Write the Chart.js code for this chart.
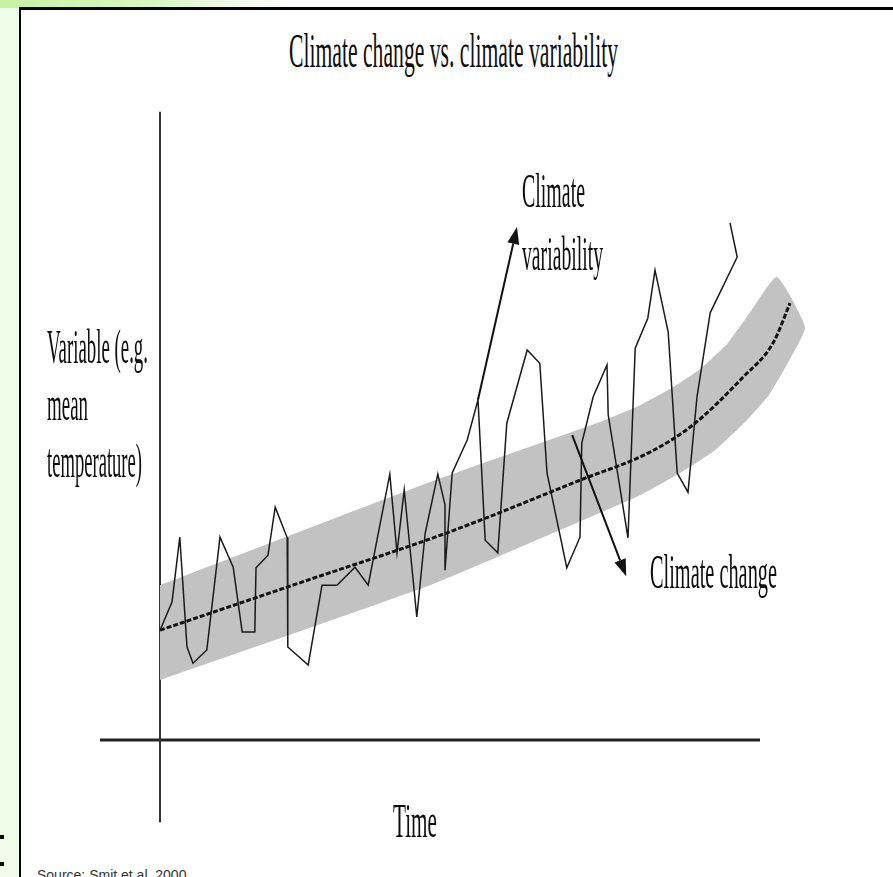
<!DOCTYPE html>
<html lang="en">
<head>
  <meta charset="UTF-8">
  <title>Climate change vs. climate variability</title>
  <script src="https://cdn.jsdelivr.net/npm/chart.js"></script>
  <style>
    html, body {
      margin: 0;
      padding: 0;
    }

    body {
      width: 893px;
      height: 877px;
      overflow: hidden;
      position: relative;
      background: #effce8;
      font-family: "Liberation Serif", "Times New Roman", serif;
    }

    .topstrip {
      position: absolute;
      left: 0;
      top: 0;
      width: 893px;
      height: 8px;
      background: linear-gradient(to right, #c6f2a4 0, #d8f7c2 150px, #ffffff 290px);
    }

    .frame {
      position: absolute;
      left: 19px;
      top: 7px;
      width: 900px;
      height: 900px;
      background: #fff;
      border-left: 2px solid #000;
      border-top: 3px solid #000;
    }

    .bullet {
      position: absolute;
      left: 0;
      width: 4px;
      height: 4px;
      background: #000;
    }

    .lbl {
      position: absolute;
      white-space: nowrap;
      line-height: 1;
      color: #0d0d0d;
      transform-origin: 0 0;
    }

    .source {
      position: absolute;
      left: 37px;
      top: 867px;
      font-family: "Liberation Sans", Arial, sans-serif;
      font-size: 14px;
      color: #333;
      white-space: nowrap;
    }

    #chartBox {
      position: absolute;
      left: 100px;
      top: 104px;
      width: 720px;
      height: 720px;
    }
  </style>
</head>
<body>
  <div class="topstrip"></div>
  <div class="frame"></div>
  <div class="bullet" style="top:835px"></div>
  <div class="bullet" style="top:862px"></div>

  <div id="chartBox"><canvas id="climateChart"></canvas></div>

  <!-- labels, widths (condensed serif) -->
  <div class="lbl" style="left:289px; top:26px; font-size:49px" data-w="329">Climate change vs. climate variability</div>
  <div class="lbl" style="left:47px; top:323px; font-size:48px" data-w="101">Variable (e.g.</div>
  <div class="lbl" style="left:47px; top:380px; font-size:48px" data-w="41">mean</div>
  <div class="lbl" style="left:47px; top:437px; font-size:48px" data-w="95">temperature)</div>
  <div class="lbl" style="left:522px; top:167px; font-size:48px" data-w="63">Climate</div>
  <div class="lbl" style="left:522px; top:230px; font-size:48px" data-w="81">variability</div>
  <div class="lbl" style="left:650px; top:548px; font-size:48px" data-w="127">Climate change</div>
  <div class="lbl" style="left:393px; top:797px; font-size:48px" data-w="44">Time</div>
  <div class="source">Source: Smit et al. 2000</div>

  <script>
    // Time (t) and variable (v) values
    const varT = [0, 2, 3.3, 4.5, 5.5, 7.8, 10, 12.2, 13.7, 15.8, 16, 18, 19.2, 21.2, 21.3, 24.7, 27, 29.5,
      32.5, 34.7, 38.3, 39.5, 40.7, 42.8, 44.2, 46.3, 47.5, 47.5, 48.7, 51.2, 53, 54.2, 56.3, 57.8, 61.2,
      63.3, 64.5, 67.8, 70, 70.3, 72.2, 74.5, 74.7, 78, 79.2, 81.3, 82.5, 84.7, 86.2, 88, 89.5, 91.7, 96.2, 95];
    const varV = [18.3, 23, 33.8, 15.5, 12.8, 15, 33.8, 28.8, 18, 18, 28.7, 30.8, 38.8, 33.7, 15.5, 12.5, 25.8, 25.8,
      28.8, 25.8, 44.3, 31.2, 41.7, 20.5, 34.5, 44.3, 39.2, 28.3, 44.5, 50, 56.7, 33.3, 31.2, 52.8, 65,
      62.8, 44.5, 28.7, 33.8, 49.5, 57.2, 62.5, 54.2, 33.7, 65.3, 70.3, 78.3, 68, 44.5, 41.3, 57.2, 71.2, 80.5, 86.2];

    // mean trend (dashed line)
    const trendT = [0, 23.3, 48.3, 70, 81.7, 88.8, 97.2, 102.2, 105];
    const trendV = [18.3, 26.2, 34.7, 43.3, 48, 52.5, 60.5, 66.2, 72.8];

    // grey band edges
    const bandUpperT = [0, 45, 60, 73.3, 80, 85, 90, 94.5, 98.5, 102.8];
    const bandUpperV = [25.8, 43, 48.3, 53, 55.8, 58.5, 61.8, 66, 71.5, 77.2];
    const bandLowerT = [0, 45, 66.7, 80, 86.7, 92.5, 97.8, 101.5, 105, 107.5];
    const bandLowerV = [10, 25.8, 35, 40.8, 44.5, 48.3, 53.3, 57.5, 63.5, 68.8];

    // axis lines (they cross each other)
    const xAxisT = [-10, 100];
    const yAxisV = [-13.7, 104.7];

    // annotation arrows: variability, change
    const arrowFromT = [53, 68.7];
    const arrowFromV = [56.7, 50.8];
    const arrowToT = [59.5, 77.7];
    const arrowToV = [85.5, 27.3];

    function toPoints(ts, vs) {
      return ts.map((t, i) => ({ x: t, y: vs[i] }));
    }

    const bandShape = toPoints(bandUpperT, bandUpperV)
      .concat(toPoints(bandLowerT, bandLowerV).reverse());

    const axesAndArrows = {
      id: 'axesAndArrows',
      beforeDatasetsDraw(chart) {
        const { ctx, scales: { x, y } } = chart;
        ctx.save();
        ctx.strokeStyle = '#222';
        ctx.lineWidth = 3;
        ctx.beginPath();
        ctx.moveTo(x.getPixelForValue(xAxisT[0]), y.getPixelForValue(0));
        ctx.lineTo(x.getPixelForValue(xAxisT[1]), y.getPixelForValue(0));
        ctx.stroke();
        ctx.strokeStyle = '#333';
        ctx.lineWidth = 2;
        ctx.beginPath();
        ctx.moveTo(x.getPixelForValue(0), y.getPixelForValue(yAxisV[0]));
        ctx.lineTo(x.getPixelForValue(0), y.getPixelForValue(yAxisV[1]));
        ctx.stroke();
        ctx.restore();
      },
      afterDatasetsDraw(chart) {
        const { ctx, scales: { x, y } } = chart;
        ctx.save();
        ctx.strokeStyle = '#111';
        ctx.fillStyle = '#111';
        ctx.lineWidth = 2;
        for (let i = 0; i < arrowFromT.length; i++) {
          const x0 = x.getPixelForValue(arrowFromT[i]);
          const y0 = y.getPixelForValue(arrowFromV[i]);
          const x1 = x.getPixelForValue(arrowToT[i]);
          const y1 = y.getPixelForValue(arrowToV[i]);
          const ang = Math.atan2(y1 - y0, x1 - x0);
          const len = 17, half = 6;
          const bx = x1 - len * Math.cos(ang);
          const by = y1 - len * Math.sin(ang);
          ctx.beginPath();
          ctx.moveTo(x0, y0);
          ctx.lineTo(bx, by);
          ctx.stroke();
          ctx.beginPath();
          ctx.moveTo(x1, y1);
          ctx.lineTo(bx + half * Math.sin(ang), by - half * Math.cos(ang));
          ctx.lineTo(bx - half * Math.sin(ang), by + half * Math.cos(ang));
          ctx.closePath();
          ctx.fill();
        }
        ctx.restore();
      }
    };

    new Chart(document.getElementById('climateChart'), {
      type: 'scatter',
      data: {
        datasets: [
          {
            label: 'Climate variability',
            data: toPoints(varT, varV),
            showLine: true,
            borderColor: '#1a1a1a',
            borderWidth: 1.5,
            pointRadius: 0,
            tension: 0,
            order: 1
          },
          {
            label: 'Mean',
            data: toPoints(trendT, trendV),
            showLine: true,
            borderColor: '#111',
            borderWidth: 3,
            borderDash: [5, 2],
            pointRadius: 0,
            cubicInterpolationMode: 'monotone',
            order: 2
          },
          {
            label: 'Range',
            data: bandShape,
            showLine: true,
            borderWidth: 0,
            borderColor: 'rgba(0,0,0,0)',
            backgroundColor: '#c2c2c2',
            fill: 'shape',
            pointRadius: 0,
            tension: 0.15,
            order: 3
          }
        ]
      },
      options: {
        responsive: true,
        maintainAspectRatio: false,
        animation: false,
        clip: false,
        layout: { padding: 0 },
        plugins: {
          legend: { display: false },
          tooltip: { enabled: false }
        },
        scales: {
          x: { type: 'linear', min: -10, max: 110, display: false },
          y: { type: 'linear', min: -14, max: 106, display: false }
        }
      },
      plugins: [axesAndArrows]
    });

    // squeeze the serif labels to the reference widths
    document.querySelectorAll('.lbl[data-w]').forEach(el => {
      const w = el.getBoundingClientRect().width;
      el.style.transform = 'scaleX(' + (el.dataset.w / w) + ')';
    });
  </script>
</body>
</html>
